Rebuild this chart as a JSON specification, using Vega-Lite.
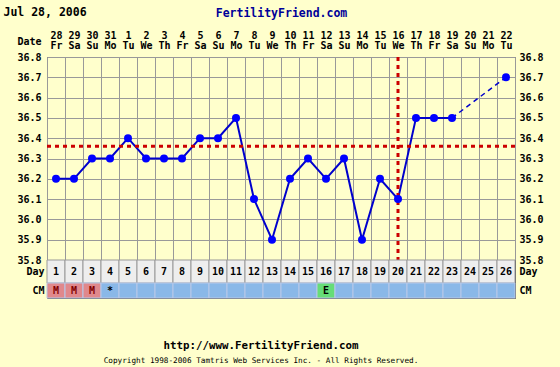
{
  "$schema": "https://vega.github.io/schema/vega-lite/v6.json",
  "background": "#FFFFCC",
  "padding": {"left": 3, "top": 6, "right": 20, "bottom": 30},
  "title": {"text": "Jul 28, 2006", "anchor": "start", "frame": "bounds", "offset": -12, "fontSize": 11.5, "font": "DejaVu Sans Mono", "fontWeight": "bold", "color": "#000000"},
  "spacing": 0,
  "bounds": "flush",
  "datasets": {
    "chart": [
      {"day": 1, "label": "28|Fr", "temp": 36.2, "cm": "M"},
      {"day": 2, "label": "29|Sa", "temp": 36.2, "cm": "M"},
      {"day": 3, "label": "30|Su", "temp": 36.3, "cm": "M"},
      {"day": 4, "label": "31|Mo", "temp": 36.3, "cm": "*"},
      {"day": 5, "label": "1|Tu", "temp": 36.4, "cm": ""},
      {"day": 6, "label": "2|We", "temp": 36.3, "cm": ""},
      {"day": 7, "label": "3|Th", "temp": 36.3, "cm": ""},
      {"day": 8, "label": "4|Fr", "temp": 36.3, "cm": ""},
      {"day": 9, "label": "5|Sa", "temp": 36.4, "cm": ""},
      {"day": 10, "label": "6|Su", "temp": 36.4, "cm": ""},
      {"day": 11, "label": "7|Mo", "temp": 36.5, "cm": ""},
      {"day": 12, "label": "8|Tu", "temp": 36.1, "cm": ""},
      {"day": 13, "label": "9|We", "temp": 35.9, "cm": ""},
      {"day": 14, "label": "10|Th", "temp": 36.2, "cm": ""},
      {"day": 15, "label": "11|Fr", "temp": 36.3, "cm": ""},
      {"day": 16, "label": "12|Sa", "temp": 36.2, "cm": "E"},
      {"day": 17, "label": "13|Su", "temp": 36.3, "cm": ""},
      {"day": 18, "label": "14|Mo", "temp": 35.9, "cm": ""},
      {"day": 19, "label": "15|Tu", "temp": 36.2, "cm": ""},
      {"day": 20, "label": "16|We", "temp": 36.1, "cm": ""},
      {"day": 21, "label": "17|Th", "temp": 36.5, "cm": ""},
      {"day": 22, "label": "18|Fr", "temp": 36.5, "cm": ""},
      {"day": 23, "label": "19|Sa", "temp": 36.5, "cm": ""},
      {"day": 24, "label": "20|Su", "temp": null, "cm": ""},
      {"day": 25, "label": "21|Mo", "temp": null, "cm": ""},
      {"day": 26, "label": "22|Tu", "temp": 36.7, "cm": ""}
    ],
    "lines": [
      {"coverline": 36.36, "ovulation": "16|We"}
    ]
  },
  "vconcat": [
    {
      "width": 468,
      "height": 203,
      "resolve": {"axis": {"y": "independent"}},
      "layer": [
        {
          "data": {"name": "chart"},
          "transform": [{"filter": "datum.day <= 23"}],
          "mark": {"type": "line", "color": "#0000CC", "strokeWidth": 2},
          "encoding": {
            "x": {
              "field": "label", "type": "nominal",
              "scale": {"domain": ["28|Fr","29|Sa","30|Su","31|Mo","1|Tu","2|We","3|Th","4|Fr","5|Sa","6|Su","7|Mo","8|Tu","9|We","10|Th","11|Fr","12|Sa","13|Su","14|Mo","15|Tu","16|We","17|Th","18|Fr","19|Sa","20|Su","21|Mo","22|Tu"], "paddingInner": 0, "paddingOuter": 0},
              "axis": {
                "orient": "top", "title": "FertilityFriend.com", "titleColor": "#000099", "titleFontSize": 11.5, "titlePadding": 12,
                "tickBand": "extent", "grid": true, "gridColor": "#999999", "ticks": false, "tickSize": 0, "domain": false,
                "labelAngle": 0, "labelExpr": "isValid(datum.value) ? split(datum.value, '|') : ''", "labelLineHeight": 10, "labelPadding": 17
              }
            },
            "y": {
              "field": "temp", "type": "quantitative",
              "scale": {"domain": [35.8, 36.8], "zero": false, "nice": false},
              "axis": {
                "values": [35.8, 35.9, 36.0, 36.1, 36.2, 36.3, 36.4, 36.5, 36.6, 36.7, 36.8],
                "format": ".1f", "grid": true, "gridColor": "#999999", "ticks": false, "tickSize": 0, "domain": false,
                "labelPadding": 6, "minExtent": 43, "maxExtent": 43,
                "title": "Date", "titleAngle": 0, "titleX": -30, "titleY": -13, "titleAlign": "left", "titleBaseline": "alphabetic"
              }
            },
            "order": {"field": "day", "type": "quantitative"}
          }
        },
        {
          "data": {"name": "chart"},
          "transform": [{"filter": "datum.day >= 23 && isValid(datum.temp)"}],
          "mark": {"type": "line", "color": "#0000CC", "strokeWidth": 1.5, "strokeDash": [5, 4]},
          "encoding": {
            "x": {"field": "label", "type": "nominal"},
            "y": {"field": "temp", "type": "quantitative", "axis": null},
            "order": {"field": "day", "type": "quantitative"}
          }
        },
        {
          "data": {"name": "lines"},
          "mark": {"type": "rule", "color": "#CC0000", "strokeWidth": 3, "strokeDash": [4, 4]},
          "encoding": {
            "y": {"field": "coverline", "type": "quantitative", "axis": null}
          }
        },
        {
          "data": {"name": "lines"},
          "mark": {"type": "rule", "color": "#CC0000", "strokeWidth": 3, "strokeDash": [4, 4]},
          "encoding": {
            "x": {"field": "ovulation", "type": "nominal"}
          }
        },
        {
          "data": {"name": "chart"},
          "mark": {"type": "point", "filled": true, "color": "#0000FF", "size": 64, "opacity": 1},
          "encoding": {
            "x": {"field": "label", "type": "nominal"},
            "y": {
              "field": "temp", "type": "quantitative",
              "axis": {
                "orient": "right", "values": [35.8, 35.9, 36.0, 36.1, 36.2, 36.3, 36.4, 36.5, 36.6, 36.7, 36.8],
                "format": ".1f", "grid": false, "ticks": false, "tickSize": 0, "domain": false,
                "labelPadding": 4, "minExtent": 40, "maxExtent": 40, "title": null
              }
            }
          }
        }
      ]
    },
    {
      "width": 468,
      "height": 23,
      "data": {"name": "chart"},
      "resolve": {"axis": {"y": "independent"}},
      "layer": [
        {
          "mark": {"type": "rect", "fill": "#EEEEEE", "stroke": "#999999", "strokeWidth": 1},
          "encoding": {
            "x": {"field": "day", "type": "ordinal", "scale": {"paddingInner": 0, "paddingOuter": 0}, "axis": null},
            "y": {"datum": "Day", "type": "nominal", "scale": {"paddingInner": 0, "paddingOuter": 0},
                  "axis": {"orient": "right", "title": null, "ticks": false, "tickSize": 0, "domain": false, "labelPadding": 4, "minExtent": 40, "maxExtent": 40}}
          }
        },
        {
          "mark": {"type": "text", "font": "DejaVu Sans Mono", "fontWeight": "bold", "fontSize": 10, "color": "#000000", "baseline": "middle"},
          "encoding": {
            "x": {"field": "day", "type": "ordinal", "axis": null},
            "y": {"datum": "Day", "type": "nominal",
                  "axis": {"orient": "left", "title": null, "ticks": false, "tickSize": 0, "domain": false, "labelPadding": 3, "minExtent": 43, "maxExtent": 43}},
            "text": {"field": "day", "type": "ordinal"}
          }
        }
      ]
    },
    {
      "width": 468,
      "height": 15,
      "data": {"name": "chart"},
      "resolve": {"axis": {"y": "independent"}},
      "title": {
        "text": "http://www.FertilityFriend.com",
        "subtitle": "Copyright 1998-2006 Tamtris Web Services Inc. - All Rights Reserved.",
        "orient": "bottom", "anchor": "middle", "frame": "group", "offset": 41, "dx": -20,
        "font": "DejaVu Sans Mono", "fontSize": 10.8, "fontWeight": "bold", "color": "#000000",
        "subtitleFont": "DejaVu Sans Mono", "subtitleFontSize": 7.7, "subtitleColor": "#000000", "subtitlePadding": 7
      },
      "layer": [
        {
          "mark": {"type": "rect", "stroke": "#B8C8E8", "strokeWidth": 1},
          "encoding": {
            "x": {"field": "day", "type": "ordinal", "scale": {"paddingInner": 0, "paddingOuter": 0}, "axis": null},
            "y": {"datum": "CM", "type": "nominal", "scale": {"paddingInner": 0, "paddingOuter": 0},
                  "axis": {"orient": "right", "title": null, "ticks": false, "tickSize": 0, "domain": false, "labelPadding": 4, "minExtent": 40, "maxExtent": 40}},
            "fill": {"field": "cm", "type": "nominal", "legend": null,
                     "scale": {"domain": ["M", "*", "E", ""], "range": ["#E0888C", "#8AB8E8", "#66DD77", "#8AB8E8"]}}
          }
        },
        {
          "transform": [{"filter": "datum.cm != ''"}],
          "mark": {"type": "text", "font": "DejaVu Sans Mono", "fontWeight": "bold", "fontSize": 10, "baseline": "middle"},
          "encoding": {
            "x": {"field": "day", "type": "ordinal", "axis": null},
            "y": {"datum": "CM", "type": "nominal",
                  "axis": {"orient": "left", "title": null, "ticks": false, "tickSize": 0, "domain": false, "labelPadding": 3, "minExtent": 43, "maxExtent": 43}},
            "text": {"field": "cm"},
            "color": {"condition": {"test": "datum.cm === 'M'", "value": "#800000"}, "value": "#000000"}
          }
        }
      ]
    }
  ],
  "config": {
    "view": {"stroke": "#555555", "strokeWidth": 1},
    "axis": {
      "labelFont": "DejaVu Sans Mono", "labelFontWeight": "bold", "labelFontSize": 10, "labelColor": "#000000",
      "titleFont": "DejaVu Sans Mono", "titleFontWeight": "bold", "titleFontSize": 10, "titleColor": "#000000"
    }
  }
}
